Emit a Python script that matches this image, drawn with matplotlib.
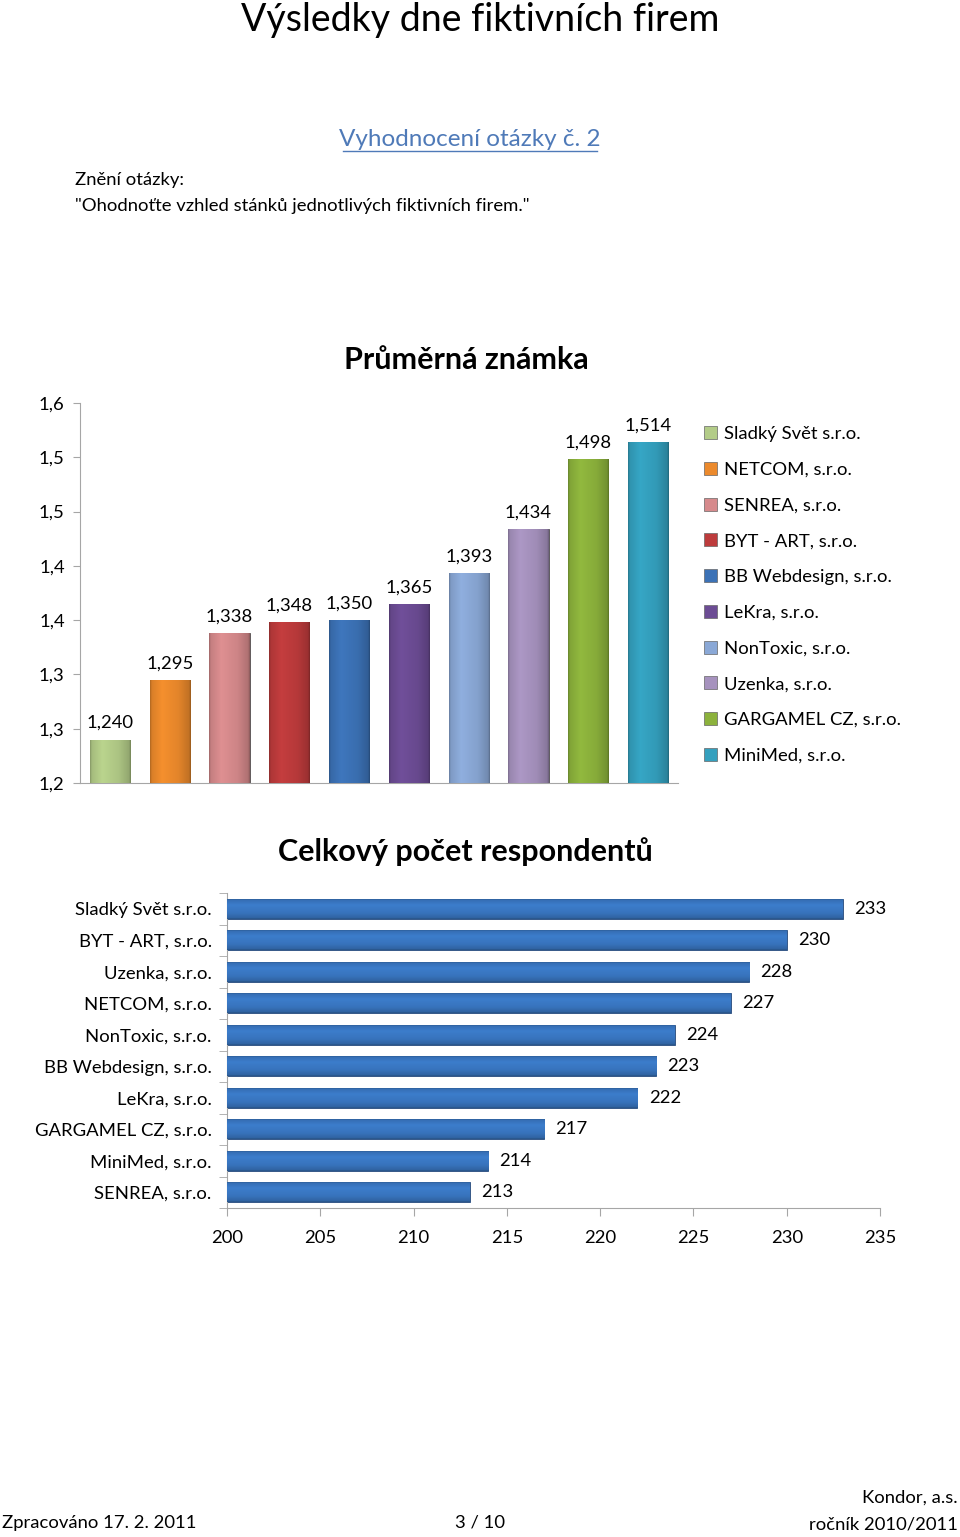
import numpy as np
import matplotlib
matplotlib.use('Agg')
import matplotlib.pyplot as plt
from matplotlib.colors import to_rgb
from matplotlib.patches import Patch
from matplotlib.ticker import FuncFormatter
from decimal import Decimal, ROUND_HALF_UP

plt.rcParams['font.family'] = ['Lato', 'DejaVu Sans']

# prumerna znamka
firms = ['Sladký Svět s.r.o.', 'NETCOM, s.r.o.', 'SENREA, s.r.o.', 'BYT - ART, s.r.o.',
         'BB Webdesign, s.r.o.', 'LeKra, s.r.o.', 'NonToxic, s.r.o.', 'Uzenka, s.r.o.',
         'GARGAMEL CZ, s.r.o.', 'MiniMed, s.r.o.']
grades = [1.240, 1.295, 1.338, 1.348, 1.350, 1.365, 1.393, 1.434, 1.498, 1.514]
colors = ['#b3cc88', '#ec8a2c', '#d68a8c', '#bd3b3c', '#3c72b6',
          '#6c4c94', '#8aa8d6', '#a692be', '#8cb23c', '#34a0be']

# pocet respondentu
resp_firms = ['Sladký Svět s.r.o.', 'BYT - ART, s.r.o.', 'Uzenka, s.r.o.', 'NETCOM, s.r.o.',
              'NonToxic, s.r.o.', 'BB Webdesign, s.r.o.', 'LeKra, s.r.o.', 'GARGAMEL CZ, s.r.o.',
              'MiniMed, s.r.o.', 'SENREA, s.r.o.']
resp = [233, 230, 228, 227, 224, 223, 222, 217, 214, 213]
resp_color = '#3a78c4'

axis_gray = '#a6a6a6'
W, H = 960, 1537
fs = 13.3


def fy(px):
    return 1 - px / H


def cz(v, nd):
    q = Decimal(1).scaleb(-nd)
    return str(Decimal(str(round(v, 6))).quantize(q, rounding=ROUND_HALF_UP)).replace('.', ',')


def shade(ax, bar, color, vertical=True):
    # fake the excel bevel gradient
    x0, y0 = bar.get_xy()
    w, h = bar.get_width(), bar.get_height()
    rgb = np.array(to_rgb(color))
    t = np.linspace(0, 1, 80)
    prof = np.interp(t, [0, 0.04, 0.3, 0.7, 0.96, 1], [0.75, 0.92, 1.04, 0.96, 0.82, 0.65])
    cols = np.clip(rgb[None, :] * prof[:, None], 0, 1)
    if vertical:
        img = cols[None, :, :]
    else:
        img = cols[:, None, :]
    im = ax.imshow(img, extent=[x0, x0 + w, y0, y0 + h], aspect='auto',
                   origin='upper', zorder=3, interpolation='bilinear')
    im.set_clip_path(bar)


fig = plt.figure(figsize=(W / 100, H / 100), dpi=100)

fig.text(480 / W, fy(20), 'Výsledky dne fiktivních firem', ha='center', va='center', fontsize=27)
fig.text(470 / W, fy(139), 'Vyhodnocení otázky č. 2', ha='center', va='center',
         fontsize=17.5, color='#4f7ab8')
fig.add_artist(plt.Line2D([343 / W, 597 / W], [fy(151), fy(151)], color='#4f7ab8', lw=1))
fig.text(75 / W, fy(180), 'Znění otázky:', ha='left', va='center', fontsize=fs)
fig.text(75 / W, fy(206), '"Ohodnoťte vzhled stánků jednotlivých fiktivních firem."',
         ha='left', va='center', fontsize=fs)

# --- top chart
ax1 = fig.add_axes([80 / W, fy(783), 598 / W, 380 / H])
x = np.arange(len(grades))
bars = ax1.bar(x, [g - 1.2 for g in grades], bottom=1.2, width=0.67, color=colors,
               edgecolor='#4a4a4a', linewidth=0.6, zorder=2)
for b, c in zip(bars, colors):
    shade(ax1, b, c, vertical=True)
for xi, g in zip(x, grades):
    ax1.text(xi, g + 0.008, cz(g, 3), ha='center', va='bottom', fontsize=fs)
ax1.set_xlim(-0.5, 9.5)
ax1.set_ylim(1.2, 1.55)
ax1.set_yticks(np.arange(1.2, 1.5501, 0.05))
ax1.yaxis.set_major_formatter(FuncFormatter(lambda v, p: cz(v, 1)))
ax1.set_xticks([])
for s in ['top', 'right']:
    ax1.spines[s].set_visible(False)
for s in ['left', 'bottom']:
    ax1.spines[s].set_color(axis_gray)
ax1.tick_params(axis='y', colors=axis_gray, labelcolor='black', labelsize=fs, length=5, pad=6)
fig.text(466 / W, fy(360), 'Průměrná známka', ha='center', va='center', fontsize=22,
         fontweight='bold')

handles = [Patch(facecolor=c, edgecolor='#666666', linewidth=0.5) for c in colors]
fig.legend(handles, firms, loc='upper left', bbox_to_anchor=(704 / W, fy(426)), frameon=False,
           fontsize=fs, handlelength=0.7, handleheight=0.7, handletextpad=0.4,
           labelspacing=1.07, borderpad=0, borderaxespad=0)

# --- bottom chart
ax2 = fig.add_axes([227 / W, fy(1208), 653 / W, 315 / H])
n = len(resp)
yp = np.arange(n)[::-1]
hb = ax2.barh(yp, [r - 200 for r in resp], left=200, height=0.63, color=resp_color,
              edgecolor='#26497a', linewidth=0.6, zorder=2)
for b in hb:
    shade(ax2, b, resp_color, vertical=False)
for yi, r in zip(yp, resp):
    ax2.text(r + 0.6, yi, str(r), ha='left', va='center', fontsize=fs)
ax2.set_xlim(200, 235)
ax2.set_ylim(-0.5, n - 0.5)
ax2.set_xticks(np.arange(200, 236, 5))
ax2.set_yticks(yp)
ax2.set_yticklabels(resp_firms)
ax2.set_yticks(np.arange(-0.5, n, 1), minor=True)
ax2.tick_params(axis='y', which='major', length=0, pad=11, labelsize=fs)
ax2.tick_params(axis='y', which='minor', length=6, color=axis_gray)
ax2.tick_params(axis='x', length=6, color=axis_gray, labelsize=fs, pad=10)
for s in ['top', 'right']:
    ax2.spines[s].set_visible(False)
for s in ['left', 'bottom']:
    ax2.spines[s].set_color(axis_gray)
fig.text(465 / W, fy(852), 'Celkový počet respondentů', ha='center', va='center', fontsize=22,
         fontweight='bold')

# footer
fig.text(2 / W, fy(1523), 'Zpracováno 17. 2. 2011', ha='left', va='center', fontsize=fs)
fig.text(480 / W, fy(1523), '3 / 10', ha='center', va='center', fontsize=fs)
fig.text(958 / W, fy(1498), 'Kondor, a.s.', ha='right', va='center', fontsize=fs)
fig.text(958 / W, fy(1524), 'ročník 2010/2011', ha='right', va='center', fontsize=fs)

fig.savefig('out.png', dpi=100)
